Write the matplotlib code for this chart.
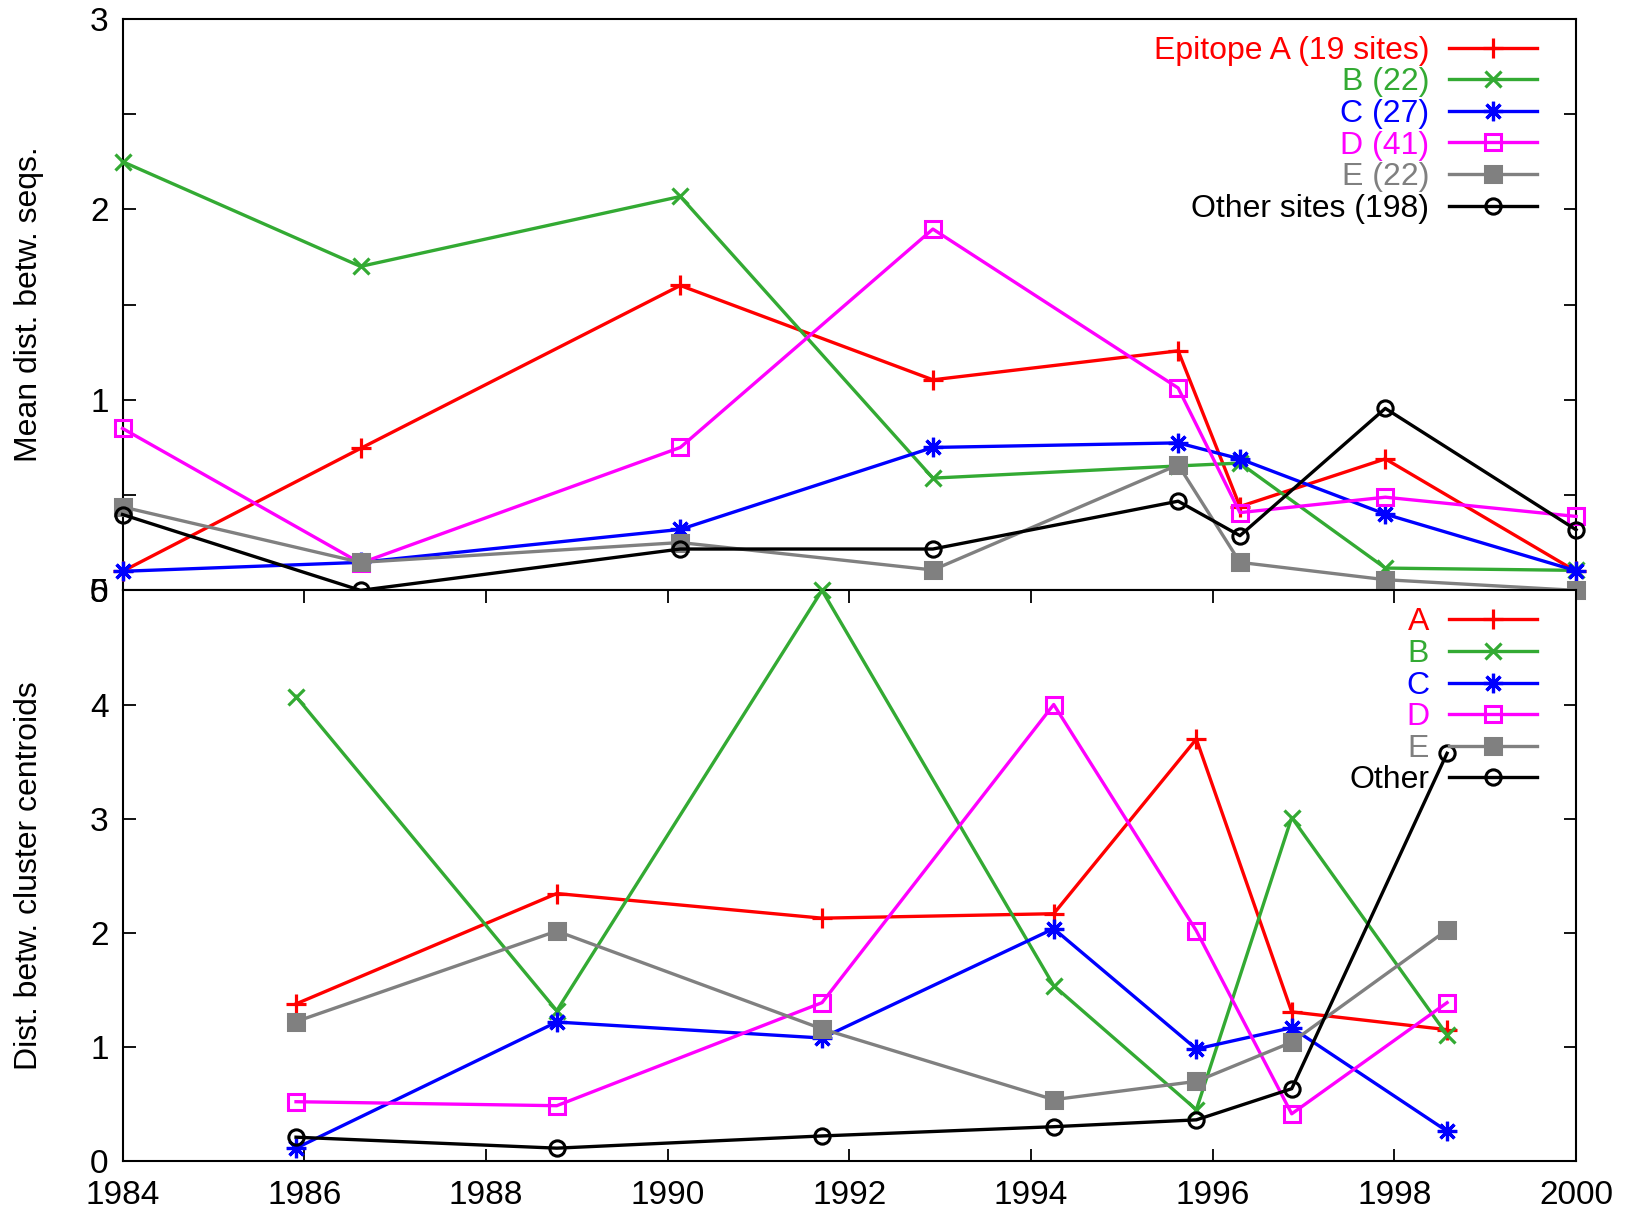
import matplotlib
matplotlib.use("Agg")
import matplotlib.pyplot as plt
from matplotlib.ticker import MultipleLocator

plt.rcParams['font.family'] = ['Liberation Sans', 'DejaVu Sans']
plt.rcParams['font.size'] = 23

# top panel: mean distance between sequences
years_top = [1984.0, 1986.62, 1990.14, 1992.92, 1995.62, 1996.30, 1997.90, 2000.0]
top_A = [0.10, 0.745, 1.60, 1.105, 1.257, 0.44, 0.69, 0.10]
top_B = [2.25, 1.70, 2.067, 0.589, 0.653, 0.668, 0.117, 0.105]
top_C = [0.10, 0.147, 0.32, 0.75, 0.774, 0.69, 0.40, 0.103]
top_D = [0.85, 0.143, 0.75, 1.896, 1.062, 0.408, 0.489, 0.388]
top_E = [0.438, 0.147, 0.251, 0.107, 0.659, 0.147, 0.056, 0.0]
top_other = [0.398, 0.0, 0.217, 0.217, 0.468, 0.287, 0.955, 0.318]
top_labels = ["Epitope A (19 sites)", "B (22)", "C (27)", "D (41)", "E (22)",
              "Other sites (198)"]

# bottom panel: distance between cluster centroids
years_bot = [1985.91, 1988.78, 1991.70, 1994.25, 1995.82, 1996.87, 1998.58]
bot_A = [1.377, 2.344, 2.128, 2.167, 3.697, 1.307, 1.151]
bot_B = [4.07, 1.317, 5.0, 1.537, 0.45, 3.01, 1.105]
bot_C = [0.113, 1.218, 1.078, 2.036, 0.982, 1.168, 0.262]
bot_D = [0.52, 0.485, 1.388, 4.0, 2.018, 0.414, 1.388]
bot_E = [1.222, 2.015, 1.158, 0.538, 0.698, 1.041, 2.025]
bot_other = [0.209, 0.113, 0.22, 0.301, 0.361, 0.634, 3.573]
bot_labels = ["A", "B", "C", "D", "E", "Other"]

colors = ['#ff0000', '#33aa33', '#0000ff', '#ff00ff', '#808080', '#000000']
styles = [
    dict(marker='+', ms=14, mew=2.3),
    dict(marker='x', ms=11, mew=2.3),
    dict(marker=(8, 2, 0), ms=14, mew=2.3),
    dict(marker='s', ms=11, mew=2.2, mfc='none'),
    dict(marker='s', ms=11, mew=2.2),
    dict(marker='o', ms=11, mew=2.2, mfc='none'),
]

fig = plt.figure(figsize=(16.27, 12.15), dpi=100)
ax1 = fig.add_axes([0.0753, 0.5141, 0.8934, 0.4705])
ax2 = fig.add_axes([0.0753, 0.0444, 0.8934, 0.4697])


def draw(ax, x, series, labels):
    for y, lab, c, st in zip(series, labels, colors, styles):
        ax.plot(x, y, color=c, lw=2.4, label=lab, clip_on=False, zorder=3, **st)
    leg = ax.legend(loc='upper right', bbox_to_anchor=(0.973, 0.970),
                    frameon=False, markerfirst=False, labelcolor='linecolor',
                    handlelength=2.75, handletextpad=0.62, labelspacing=0.05,
                    borderpad=0, borderaxespad=0, numpoints=1, fontsize=23)
    leg.set_zorder(5)


draw(ax1, years_top, [top_A, top_B, top_C, top_D, top_E, top_other], top_labels)
draw(ax2, years_bot, [bot_A, bot_B, bot_C, bot_D, bot_E, bot_other], bot_labels)

for ax in (ax1, ax2):
    ax.set_xlim(1984, 2000)
    ax.set_xticks(range(1984, 2001, 2))
    for s in ax.spines.values():
        s.set_linewidth(1.5)
    ax.tick_params(direction='in', length=9, width=1.3, top=True, right=True,
                   labelsize=24)
    ax.tick_params(axis='y', pad=10)
    ax.tick_params(axis='x', pad=14)
    ax.yaxis.set_label_coords(-0.054, 0.5)

ax1.set_ylim(0, 3)
ax1.set_yticks([0, 1, 2, 3])
ax1.yaxis.set_minor_locator(MultipleLocator(0.5))
ax1.tick_params(axis='y', which='minor', direction='in', length=9, width=1.3,
                right=True)
ax1.tick_params(axis='x', length=0, labelbottom=False)
ax1.set_ylabel("Mean dist. betw. seqs.", fontsize=23)

ax2.set_ylim(0, 5)
ax2.set_yticks([0, 1, 2, 3, 4, 5])
ax2.set_ylabel("Dist. betw. cluster centroids", fontsize=23)

fig.savefig("out.png", dpi=100)
